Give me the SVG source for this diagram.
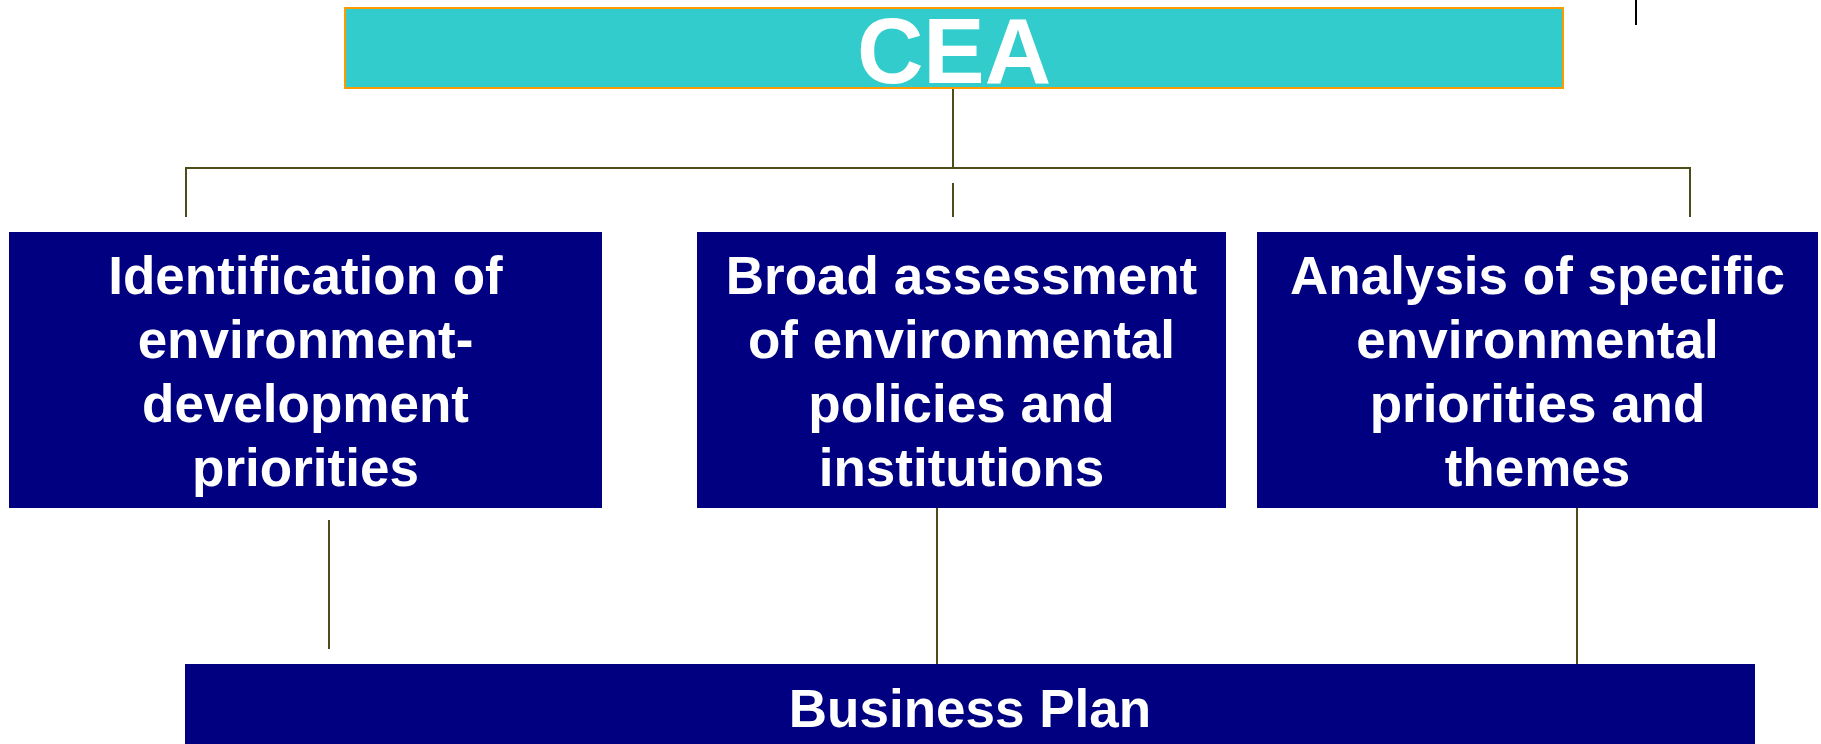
<svg xmlns="http://www.w3.org/2000/svg" width="1821" height="744" viewBox="0 0 1821 744">
<style>
.box{fill:#000080}
.t{font-family:"Liberation Sans",Arial,sans-serif;font-weight:bold;fill:#fff;text-anchor:middle}
.c{stroke:#4d4d1a;stroke-width:2;fill:none}
</style>
<rect width="1821" height="744" fill="#fff"/>
<g id="connectors">
<line class="c" x1="953" y1="88" x2="953" y2="168"/>
<polyline class="c" points="186,217 186,168 1690,168 1690,217"/>
<line class="c" x1="953" y1="183" x2="953" y2="217"/>
<line class="c" x1="329" y1="520" x2="329" y2="649"/>
<line class="c" x1="937" y1="504" x2="937" y2="664"/>
<line class="c" x1="1577" y1="504" x2="1577" y2="664"/>
<line x1="1636" y1="0" x2="1636" y2="25" stroke="#000" stroke-width="2"/>
</g>
<g id="cea">
<rect x="345" y="8" width="1218" height="80" fill="#33CCCC" stroke="#FF9900" stroke-width="2"/>
<text class="t" x="954" y="83" font-size="92">CEA</text>
</g>
<g id="identification">
<rect class="box" x="9" y="232" width="593" height="276"/>
<text class="t" font-size="53" x="305.5"><tspan x="305.5" y="294">Identification of</tspan><tspan x="305.5" y="358">environment-</tspan><tspan x="305.5" y="422">development</tspan><tspan x="305.5" y="486">priorities</tspan></text>
</g>
<g id="broad">
<rect class="box" x="697" y="232" width="529" height="276"/>
<text class="t" font-size="53" x="961.5"><tspan x="961.5" y="294">Broad assessment</tspan><tspan x="961.5" y="358">of environmental</tspan><tspan x="961.5" y="422">policies and</tspan><tspan x="961.5" y="486">institutions</tspan></text>
</g>
<g id="analysis">
<rect class="box" x="1257" y="232" width="561" height="276"/>
<text class="t" font-size="53" x="1537.5"><tspan x="1537.5" y="294">Analysis of specific</tspan><tspan x="1537.5" y="358">environmental</tspan><tspan x="1537.5" y="422">priorities and</tspan><tspan x="1537.5" y="486">themes</tspan></text>
</g>
<g id="business">
<rect class="box" x="185" y="664" width="1570" height="80"/>
<text class="t" x="970" y="727" font-size="53">Business Plan</text>
</g>
</svg>
